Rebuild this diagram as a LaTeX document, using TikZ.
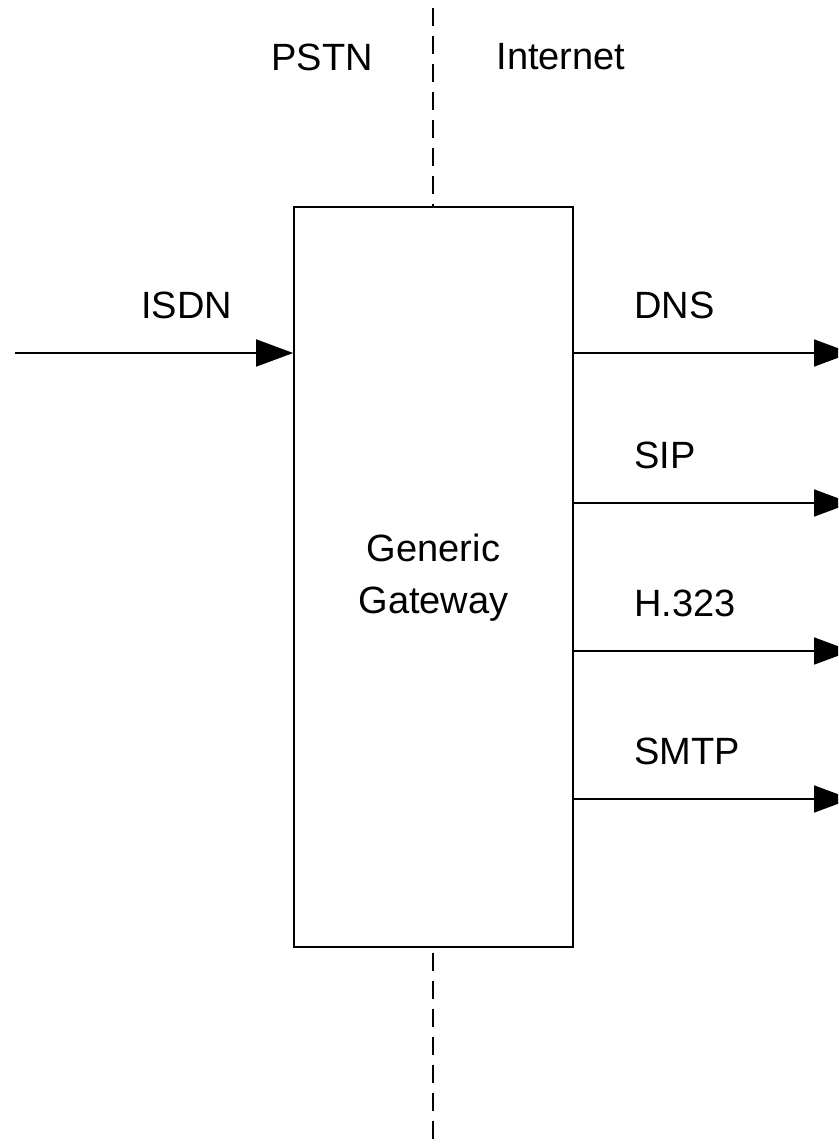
\documentclass[tikz,border=0pt]{standalone}
\usepackage{fontspec}
\setmainfont{Liberation Sans}
\usetikzlibrary{arrows.meta}
\begin{document}
\begin{tikzpicture}[x=1pt,y=-1pt,
  lbl/.style={font=\fontsize{38}{45}\selectfont, inner sep=0pt},
  conn/.style={line width=1.7pt, -{Triangle[length=37pt,width=27pt]}},
  divider/.style={line width=1.7pt, dash pattern=on 18pt off 10pt}]
\clip (0,0) rectangle (838,1145);
\useasboundingbox (0,0) rectangle (838,1145);
\node[draw, line width=1.7pt, minimum width=279pt, minimum height=740pt, inner sep=0pt,
  lbl, align=center] (gw) at (433.5,577) {};
\node[lbl, align=center] (gwtext) at (433.5,578) {Generic\\[7pt]Gateway};
\coordinate (dtop) at (433,8);
\coordinate (dbot) at (433,1145);
\draw[divider] (dtop) -- (gw.north -| dtop);
\draw[divider, dash phase=0pt] (gw.south -| dbot) ++(0,5) -- (dbot);
\node[lbl] (pstn) at (322,57) {PSTN};
\node[lbl] (inet) at (561,57) {Internet};
\coordinate (isdnsrc) at (15,353);
\draw[conn] (isdnsrc) -- (isdnsrc -| gw.west);
\node[lbl, anchor=base west] (isdn) at (141,318.5) {ISDN};
\foreach \y/\t/\n in {353/DNS/dns, 503/SIP/sip, 651/H.323/h, 799/SMTP/smtp}{
  \coordinate (\n end) at (851,\y);
  \draw[conn] (gw.east |- \n end) -- (\n end);
  \node[lbl, anchor=base west] (\n) at (634,\y-34.5) {\t};
}
\end{tikzpicture}
\end{document}
